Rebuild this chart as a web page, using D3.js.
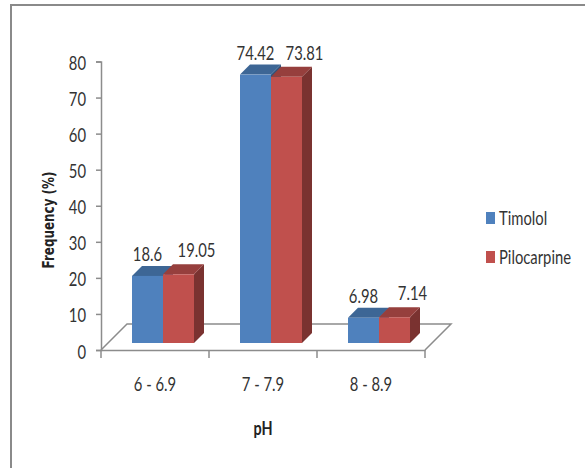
<!DOCTYPE html>
<html>
<head>
<meta charset="utf-8">
<script src="https://cdn.jsdelivr.net/npm/d3@7"></script>
<style>
  html, body { margin: 0; padding: 0; background: #fff; }
  svg { display: block; }
  text { font-family: Lato, "Open Sans", sans-serif; fill: #333; }
</style>
</head>
<body>
<svg id="svg" width="585" height="468"></svg>
<script>
// values
var categories = ["6 - 6.9", "7 - 7.9", "8 - 8.9"];
var timolol = [18.6, 74.42, 6.98];
var pilocarpine = [19.05, 73.81, 7.14];
var seriesNames = ["Timolol", "Pilocarpine"];
var yTicks = [0, 10, 20, 30, 40, 50, 60, 70, 80];

var colors = {
    Timolol: { front: "#4f81bd", top: "#3d6695", side: "#2f5179" },
    Pilocarpine: { front: "#c0504d", top: "#963f3d", side: "#7a3230" }
};

var axisColor = "#8c8c8c";
var depth = 10;          // -- 3d offset, right and up
var floorDepth = 26;
var barLift = 7;         // -- front of the bars stands this far above the axis line
var labelOffset = { Timolol: [0, -15], Pilocarpine: [18, -17] };
var labelSize = "20px";
var squeezeBy = 0.74;

var svg = d3.select("svg#svg");

// - the fonts here are wider than the original, squeeze text to fit
function squeeze(sel, k) {
    sel.each(function() {
        var len = this.getComputedTextLength();
        d3.select(this)
            .attr("textLength", len * k)
            .attr("lengthAdjust", "spacingAndGlyphs");
    });
}

// - outer frame, open on the right and bottom
svg.append("path")
    .attr("d", "M11,468V5H585")
    .attr("fill", "none")
    .attr("stroke", "#8a8a8a")
    .attr("stroke-width", 2);

var x = d3.scaleBand().domain(categories).range([101, 425]);
var y = d3.scaleLinear().domain([0, 80]).range([350, 61.5]);
var inner = d3.scaleBand().domain(seriesNames).range([0, 62]);
var barShift = x.bandwidth() / 2 - 23; // -- bars sit a bit right of the category centre

// - floor of the 3d plot
svg.append("path")
    .attr("d", "M" + x.range()[0] + "," + y(0) + "l" + floorDepth + "," + (-floorDepth)
        + "H" + (x.range()[1] + floorDepth) + "l" + (-floorDepth) + "," + floorDepth)
    .attr("fill", "none")
    .attr("stroke", axisColor)
    .attr("stroke-width", 1.5);

// - axes
var yAxis = d3.axisLeft(y).tickValues(yTicks).tickSize(5).tickPadding(10);
var gy = svg.append("g").attr("transform", "translate(101,0)").call(yAxis);
var xAxis = d3.axisBottom(x).tickSize(0).tickPadding(27);
var gx = svg.append("g").attr("transform", "translate(0,350)").call(xAxis);

// - ticks on the x axis sit between the categories
gx.selectAll(".edge")
    .data(d3.range(categories.length + 1))
    .enter().append("line")
    .attr("class", "edge")
    .attr("x1", function(d) { return x.range()[0] + d * x.step(); })
    .attr("x2", function(d) { return x.range()[0] + d * x.step(); })
    .attr("y1", 0)
    .attr("y2", 8)
    .attr("stroke", axisColor)
    .attr("stroke-width", 1.5);

svg.selectAll(".domain, .tick line")
    .attr("stroke", axisColor)
    .attr("stroke-width", 1.5);
gy.selectAll("text").style("font-size", labelSize).attr("dy", "0.4em").call(squeeze, squeezeBy);
gx.selectAll("text").style("font-size", labelSize).call(squeeze, squeezeBy);

// - bars, left series first so the red front covers the blue side
var groups = [timolol, pilocarpine];
[0, 1].forEach(function(s) {
    var name = seriesNames[s];
    var g = svg.append("g").attr("class", "series-" + name);
    var values = groups[s];

    var px = function(d, i) { return x(categories[i]) + barShift + inner(name); };
    var ptop = function(d) { return y(d) - barLift; };
    var w = inner.bandwidth();

    // - side
    g.selectAll(".side").data(values).enter().append("path")
        .attr("class", "side")
        .attr("fill", colors[name].side)
        .attr("d", function(d, i) {
            var l = px(d, i) + w;
            return "M" + l + "," + ptop(d) + "l" + depth + "," + (-depth)
                + "V" + (y(0) - barLift - depth) + "l" + (-depth) + "," + depth + "Z";
        });

    // - top
    g.selectAll(".top").data(values).enter().append("path")
        .attr("class", "top")
        .attr("fill", colors[name].top)
        .attr("d", function(d, i) {
            var l = px(d, i);
            return "M" + l + "," + ptop(d) + "l" + depth + "," + (-depth)
                + "h" + w + "l" + (-depth) + "," + depth + "Z";
        });

    // - front
    g.selectAll(".front").data(values).enter().append("rect")
        .attr("class", "front")
        .attr("fill", colors[name].front)
        .attr("x", px)
        .attr("y", ptop)
        .attr("width", w)
        .attr("height", function(d) { return y(0) - y(d); });

    // - data labels
    g.selectAll(".lab").data(values).enter().append("text")
        .attr("class", "lab")
        .attr("x", function(d, i) { return px(d, i) + w / 2 + labelOffset[name][0]; })
        .attr("y", function(d) { return ptop(d) + labelOffset[name][1]; })
        .attr("text-anchor", "middle")
        .style("font-size", labelSize)
        .text(function(d) { return d; })
        .call(squeeze, squeezeBy);
});

// - axis titles
svg.append("text")
    .attr("transform", "translate(54,220) rotate(-90)")
    .attr("text-anchor", "middle")
    .style("font-family", "'DejaVu Sans', sans-serif")
    .style("font-weight", "bold")
    .style("font-size", "15px")
    .style("fill", "#222")
    .text("Frequency (%)")
    .attr("textLength", 97)
    .attr("lengthAdjust", "spacingAndGlyphs");

svg.append("text")
    .attr("x", 263)
    .attr("y", 435)
    .attr("text-anchor", "middle")
    .style("font-weight", "bold")
    .style("font-size", "18px")
    .style("fill", "#222")
    .text("pH")
    .call(squeeze, 0.8);

// - legend
var legend = svg.selectAll(".legend").data(seriesNames).enter().append("g")
    .attr("class", "legend")
    .attr("transform", function(d, i) { return "translate(486," + (212 + i * 39) + ")"; });
legend.append("rect")
    .attr("width", 9)
    .attr("height", 12)
    .attr("fill", function(d) { return colors[d].front; });
legend.append("text")
    .attr("x", 13)
    .attr("y", 13)
    .style("font-size", labelSize)
    .text(function(d) { return d; })
    .call(squeeze, squeezeBy);
</script>
</body>
</html>
